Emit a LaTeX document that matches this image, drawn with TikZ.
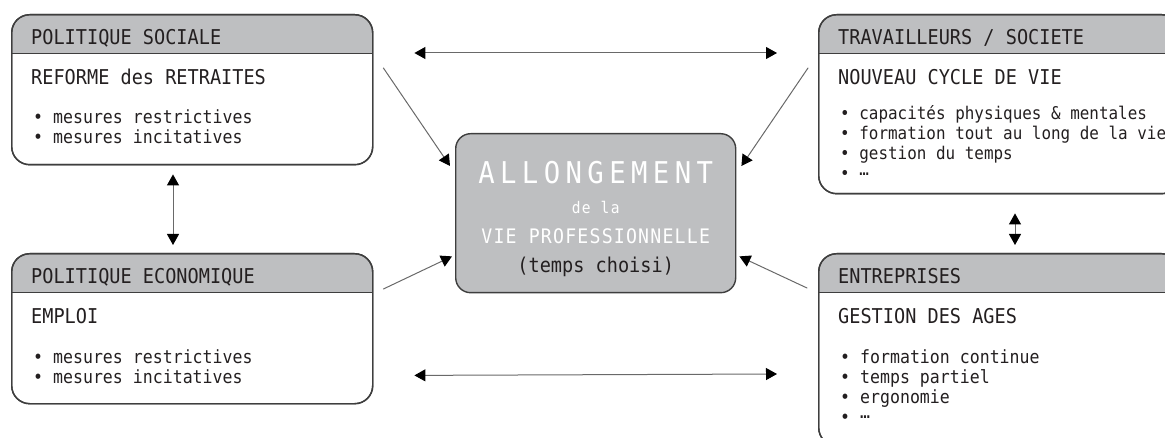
\documentclass[tikz,border=0pt]{standalone}
\usepackage{fontspec}
\usepackage{tikz}
\usetikzlibrary{arrows.meta,calc}
\newfontfamily\panelfont[FakeStretch=0.91]{DejaVu Sans Mono}
\definecolor{panelgray}{RGB}{190,191,193}
\definecolor{panelline}{RGB}{62,62,62}
\definecolor{textdark}{RGB}{35,31,32}
\definecolor{linkgray}{RGB}{105,105,105}
\newcommand{\dotsline}{\smash{\raisebox{4.5pt}{…}}}

\begin{document}
\begin{tikzpicture}[x=1pt,y=-1pt,line cap=round,line join=round,
  >={Triangle[length=11pt,width=12pt,color=black]},
  panel/.style={draw=panelline,line width=1.4pt,rounded corners=18pt,
   minimum width=361pt,anchor=north west,inner sep=0pt,
   path picture={
    \fill[panelgray,sharp corners] (path picture bounding box.north west) rectangle
     ([yshift=-39pt]path picture bounding box.north east);
    \draw[panelline,line width=1.4pt,sharp corners] ([yshift=-39pt]path picture bounding box.north west)
     -- ([yshift=-39pt]path picture bounding box.north east);},
   postaction={draw=panelline,line width=1.4pt}},
  head/.style={anchor=base west,inner sep=0pt,text=textdark,
   font=\panelfont\fontsize{20.4}{24}\selectfont},
  item/.style={anchor=base west,inner sep=0pt,text=textdark,
   font=\panelfont\fontsize{18.2}{21}\selectfont},
  smallitem/.style={item,font=\panelfont\fontsize{17.5}{21}\selectfont},
  link/.style={draw=linkgray,line width=1pt}]
 \useasboundingbox (0,0) rectangle (1165,438);

 % les quatre cadres
 \node[panel,minimum height=150pt] (sociale) at (11,14) {};
 \node[panel,minimum height=150pt] (economique) at (11,253) {};
 \node[panel,minimum height=179pt] (travail) at (818,14) {};
 \node[panel,minimum height=192pt] (entreprise) at (818,253) {};

 % cadre central
 \node[draw=panelline,line width=1.4pt,fill=panelgray,rounded corners=15pt,
  minimum width=280pt,minimum height=159pt,anchor=north west,inner sep=0pt]
  (allong) at (455,133) {};
 \node[anchor=base,inner sep=0pt,text=white,
  font=\panelfont\addfontfeature{LetterSpace=18}\fontsize{30}{34}\selectfont]
  (allong-a) at ($(allong.north)+(0,50.3)$) {ALLONGEMENT};
 \node[anchor=base,inner sep=0pt,text=white,
  font=\panelfont\addfontfeature{LetterSpace=8}\fontsize{16}{18}\selectfont]
  (allong-b) at ($(allong.north)+(0,81)$) {de la};
 \node[anchor=base,inner sep=0pt,text=white,
  font=\panelfont\addfontfeature{LetterSpace=6}\fontsize{20}{24}\selectfont]
  (allong-c) at ($(allong.north)+(0,111)$) {VIE PROFESSIONNELLE};
 \node[head,anchor=base] (allong-d) at ($(allong.north)+(0,140)$) {(temps choisi)};

 % textes
 \node[head] (sociale-h) at ($(sociale.north west)+(20,30.5)$) {POLITIQUE SOCIALE};
 \node[head] (sociale-t) at ($(sociale.north west)+(20,71)$) {REFORME des RETRAITES};
 \node[item] (sociale-1) at ($(sociale.north west)+(22,110)$) {• mesures restrictives};
 \node[item] (sociale-2) at ($(sociale.north west)+(22,130)$) {• mesures incitatives};

 \node[head] (economique-h) at ($(economique.north west)+(20,31)$) {POLITIQUE ECONOMIQUE};
 \node[head] (economique-t) at ($(economique.north west)+(20,71)$) {EMPLOI};
 \node[item] (economique-1) at ($(economique.north west)+(22,110)$) {• mesures restrictives};
 \node[item] (economique-2) at ($(economique.north west)+(22,130)$) {• mesures incitatives};

 \node[head] (travail-h) at ($(travail.north west)+(20,30.5)$) {TRAVAILLEURS / SOCIETE};
 \node[head] (travail-t) at ($(travail.north west)+(20,71)$) {NOUVEAU CYCLE DE VIE};
 \node[smallitem] (travail-1) at ($(travail.north west)+(22,106)$) {• capacités physiques \& mentales};
 \node[smallitem] (travail-2) at ($(travail.north west)+(22,126)$) {• formation tout au long de la vie};
 \node[smallitem] (travail-3) at ($(travail.north west)+(22,146)$) {• gestion du temps};
 \node[smallitem] (travail-4) at ($(travail.north west)+(22,166)$) {• \dotsline};

 \node[head] (entreprise-h) at ($(entreprise.north west)+(20,31)$) {ENTREPRISES};
 \node[head] (entreprise-t) at ($(entreprise.north west)+(20,71)$) {GESTION DES AGES};
 \node[item] (entreprise-1) at ($(entreprise.north west)+(22,110)$) {• formation continue};
 \node[item] (entreprise-2) at ($(entreprise.north west)+(22,130)$) {• temps partiel};
 \node[item] (entreprise-3) at ($(entreprise.north west)+(22,150)$) {• ergonomie};
 \node[item] (entreprise-4) at ($(entreprise.north west)+(22,170)$) {• \dotsline};

 % fleches
 \draw[link,<->] ($(sociale.north east)+(41,39)$) -- ($(travail.north west)+(-41,39)$);
 \draw[link,<->] ($(economique.south east)+(41,-29)$) -- ($(entreprise.north west)+(-41,121)$);
 \draw[link,<->] ($(sociale.south west)+(162,9)$) -- ($(economique.north west)+(162,-8)$);
 \draw[link,<->] ($(travail.south west)+(197,19)$) -- ($(entreprise.north west)+(197,-8)$);
 \draw[link,->] ($(sociale.north east)+(10,54)$) -- ($(allong.north west)+(-5,33)$);
 \draw[link,->] ($(travail.north west)+(-10,54)$) -- ($(allong.north east)+(5,33)$);
 \draw[link,->] ($(economique.north east)+(10,36)$) -- ($(allong.south west)+(-3,-37)$);
 \draw[link,->] ($(entreprise.north west)+(-11,35)$) -- ($(allong.south east)+(3,-37)$);
\end{tikzpicture}
\end{document}
